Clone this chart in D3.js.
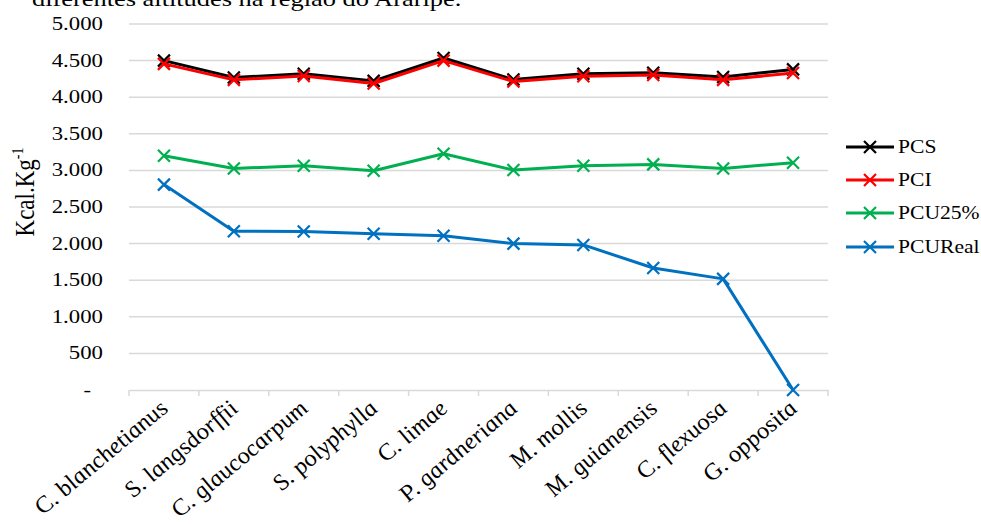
<!DOCTYPE html>
<html>
<head>
<meta charset="utf-8">
<script src="https://cdn.jsdelivr.net/npm/d3@7"></script>
<style>
  body { margin: 0; background: #fff; }
  svg { display: block; }
  svg text { font-family: "Liberation Serif", "Times New Roman", serif; fill: #000; }
</style>
</head>
<body>
<svg id="chart" width="981" height="524"></svg>
<script>

var species = ['C. blanchetianus', 'S. langsdorffii', 'C. glaucocarpum', 'S. polyphylla', 'C. limae',
               'P. gardneriana', 'M. mollis', 'M. guianensis', 'C. flexuosa', 'G. opposita'];

var pcs     = [4500, 4268, 4321, 4223, 4536, 4241, 4321, 4335, 4277, 4380];
var pci     = [4455, 4237, 4290, 4187, 4500, 4214, 4286, 4304, 4237, 4330];
var pcu25   = [3200, 3027, 3064, 2995, 3227, 3005, 3064, 3082, 3027, 3105];
var pcuReal = [2806, 2170, 2165, 2134, 2107, 2000, 1982, 1667, 1518, 0];

var yTicks = [0, 500, 1000, 1500, 2000, 2500, 3000, 3500, 4000, 4500, 5000];

var seriesNames  = ['PCS', 'PCI', 'PCU25%', 'PCUReal'];
var seriesColors = ['#000000', '#ff0000', '#00b050', '#0070c0'];
var seriesValues = [pcs, pci, pcu25, pcuReal];

var svg = d3.select('#chart'),
    plotLeft = 129, plotRight = 828, plotTop = 24, plotBottom = 390,
    sx = 1.2; // the figure is a little stretched sideways

var x = d3.scaleBand()
      .domain(species)
      .range([plotLeft, plotRight]);

var y = d3.scaleLinear()
      .domain([0, 5000])
      .range([plotBottom, plotTop]);

function at(px, py, extra) {
  return 'translate(' + px + ',' + py + ') scale(' + sx + ',1)' + (extra || '');
}

// title line cut off at the top of the figure
svg.append('text')
    .attr('transform', at(32, 6))
    .attr('font-size', 22)
    .text('diferentes altitudes na região do Araripe.');

// gridlines
svg.append('g')
  .selectAll('line')
  .data(yTicks.filter(function(d) { return d > 0; }))
  .enter().append('line')
    .attr('x1', plotLeft)
    .attr('x2', plotRight)
    .attr('y1', function(d) { return y(d); })
    .attr('y2', function(d) { return y(d); })
    .attr('stroke', '#d9d9d9')
    .attr('stroke-width', 1.5);

// y tick labels
svg.append('g')
  .selectAll('text')
  .data(yTicks)
  .enter().append('text')
    .attr('transform', function(d) { return at(d === 0 ? 91 : 103, y(d) + 6); })
    .attr('text-anchor', 'end')
    .attr('font-size', 19)
    .text(function(d) { return d === 0 ? '-' : d3.format(',')(d).replace(',', '.'); });

// x axis
var xAxis = d3.axisBottom(x).tickSize(0).tickFormat('');
var gx = svg.append('g')
    .attr('transform', 'translate(0,' + plotBottom + ')')
    .call(xAxis);
gx.select('.domain').attr('stroke', '#d9d9d9').attr('stroke-width', 1.5);

var edges = species.map(function(d) { return x(d); }).concat([plotRight]);
gx.selectAll('line.edge')
  .data(edges)
  .enter().append('line')
    .attr('class', 'edge')
    .attr('x1', function(d) { return d; })
    .attr('x2', function(d) { return d; })
    .attr('y1', 0)
    .attr('y2', 6)
    .attr('stroke', '#d9d9d9')
    .attr('stroke-width', 1.5);

gx.selectAll('text.cat')
  .data(species)
  .enter().append('text')
    .attr('class', 'cat')
    .attr('transform', function(d) {
      return at(x(d) + x.bandwidth() / 2 + 6, 20, ' rotate(-45)');
    })
    .attr('text-anchor', 'end')
    .attr('font-size', 22)
    .attr('font-style', 'italic')
    .text(function(d) { return d; });

// y axis title
var yt = svg.append('text')
    .attr('transform', at(34, 192, ' rotate(-90)'))
    .attr('text-anchor', 'middle')
    .attr('font-size', 23);
yt.append('tspan').text('Kcal.Kg');
yt.append('tspan').attr('font-size', 14).attr('dy', -9).text('-1');

// lines
var line = d3.line()
    .x(function(d, i) { return x(species[i]) + x.bandwidth() / 2; })
    .y(function(d) { return y(d); });

function cross(g, cx, cy, color) {
  var s = 6;
  g.append('path')
      .attr('d', 'M' + (cx - s) + ',' + (cy - s) + 'L' + (cx + s) + ',' + (cy + s) +
                 'M' + (cx - s) + ',' + (cy + s) + 'L' + (cx + s) + ',' + (cy - s))
      .attr('stroke', color)
      .attr('stroke-width', 2.2)
      .attr('fill', 'none');
}

var order = [3, 2, 0, 1];
order.forEach(function(k) {
  var g = svg.append('g');
  g.append('path')
      .attr('d', line(seriesValues[k]))
      .attr('stroke', seriesColors[k])
      .attr('stroke-width', 3)
      .attr('fill', 'none')
      .attr('stroke-linejoin', 'round');
  seriesValues[k].forEach(function(v, i) {
    cross(g, x(species[i]) + x.bandwidth() / 2, y(v), seriesColors[k]);
  });
});

// legend
var legendY = [147, 180, 213, 247];
var legend = svg.append('g');
seriesNames.forEach(function(name, k) {
  var ly = legendY[k];
  legend.append('line')
      .attr('x1', 846).attr('x2', 894)
      .attr('y1', ly).attr('y2', ly)
      .attr('stroke', seriesColors[k])
      .attr('stroke-width', 3);
  cross(legend, 870, ly, seriesColors[k]);
  legend.append('text')
      .attr('transform', at(898, ly + 6))
      .attr('font-size', 18)
      .text(name);
});

</script>
</body>
</html>
